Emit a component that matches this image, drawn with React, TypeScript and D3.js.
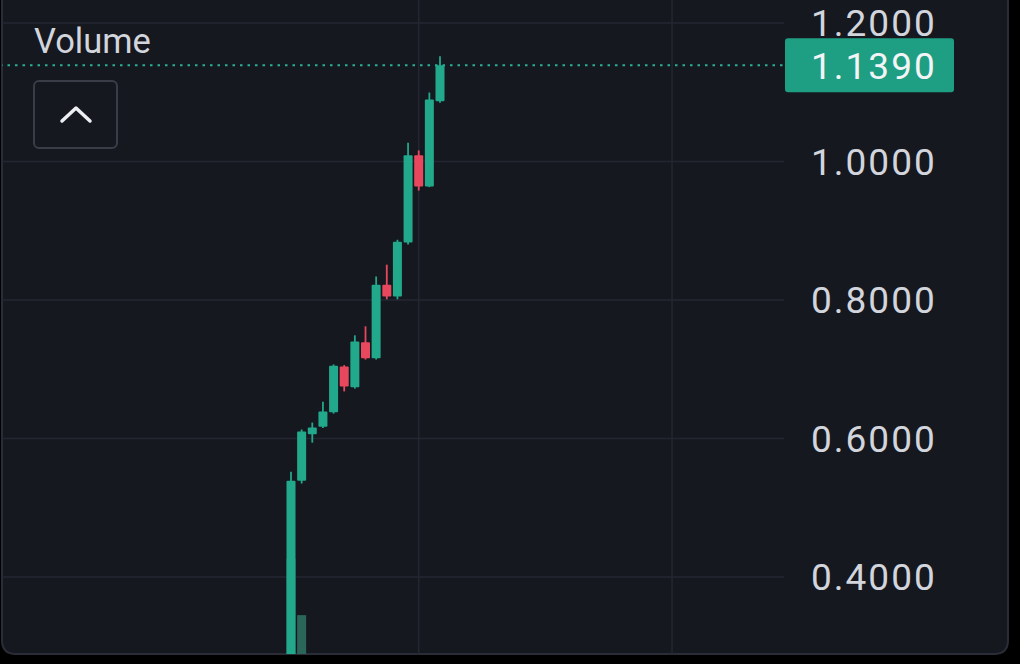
import React from "react";
import * as d3 from "d3";

// ---- data ----
const candleIndex = [0, 1, 2, 3, 4, 5, 6, 7, 8, 9, 10, 11, 12, 13, 14];
const opens = [0.28, 0.539, 0.606, 0.617, 0.638, 0.704, 0.674, 0.739, 0.716, 0.822, 0.805, 0.883, 1.009, 0.964, 1.087];
const highs = [0.552, 0.613, 0.623, 0.653, 0.707, 0.706, 0.749, 0.762, 0.834, 0.851, 0.887, 1.027, 1.016, 1.0996, 1.152];
const lows = [0.27, 0.535, 0.594, 0.615, 0.636, 0.668, 0.672, 0.714, 0.714, 0.801, 0.801, 0.880, 0.958, 0.963, 1.085];
const closes = [0.539, 0.610, 0.616, 0.639, 0.705, 0.675, 0.740, 0.716, 0.822, 0.805, 0.884, 1.009, 0.964, 1.0895, 1.139];
const volumes = [2.6, 1.06, 0.0, 0.0, 0.0, 0.0, 0.0, 0.0, 0.0, 0.0, 0.0, 0.0, 0.0, 0.0, 0.0];
const priceTicks = [0.4, 0.6, 0.8, 1.0, 1.2];
const verticalGridIdx = [12, 35.8];
const lastPrice = 1.139;
const volumeLabel = "Volume";

// ---- style ----
const W = 1020;
const H = 664;
const BG = "#161820";
const GRID = "#242732";
const UP = "#22a88b";
const DOWN = "#e8485d";
const VOL = "#2a665a";
const TEXT = "#d2d5dc";
const FONT = "Roboto, 'Noto Sans', sans-serif";

export default function App() {
  const panelRight = 1008;
  const panelBottom = 654;
  const plotRight = 784;

  const y = d3.scaleLinear().domain([0.4, 1.2]).range([577, 23]);
  const x = d3.scaleLinear().domain([0, 14]).range([291, 440]);
  const vy = d3.scaleLinear().domain([0, 3]).range([panelBottom, panelBottom - 110]);
  const bodyW = 9;
  const fmt = d3.format(".4f");

  const panelPath = `M2,-20 H${panelRight} V${panelBottom - 14} Q${panelRight},${panelBottom} ${panelRight - 14},${panelBottom} H16 Q2,${panelBottom} 2,${panelBottom - 14} Z`;

  return (
    <svg
      width={W}
      height={H}
      style={{ position: "absolute", left: 0, top: 0, background: "#000" }}
      fontFamily={FONT}
    >
      <defs>
        <clipPath id="panelClip">
          <path d={panelPath} />
        </clipPath>
      </defs>
      <rect x={0} y={0} width={W} height={H} fill="#000" />
      <path d={panelPath} fill={BG} stroke="#2a2d37" strokeWidth={2} />
      <g clipPath="url(#panelClip)">
        {/* horizontal grid */}
        {priceTicks.map((t) => (
          <line key={"h" + t} x1={0} x2={plotRight} y1={y(t)} y2={y(t)} stroke={GRID} strokeWidth={1.5} />
        ))}
        {/* vertical grid */}
        {verticalGridIdx.map((i) => (
          <line key={"v" + i} x1={x(i)} x2={x(i)} y1={0} y2={panelBottom} stroke={GRID} strokeWidth={1.5} />
        ))}
        {/* volume */}
        {candleIndex.map((i) =>
          volumes[i] > 0 ? (
            <rect
              key={"vol" + i}
              x={x(i) - bodyW / 2}
              y={vy(volumes[i])}
              width={bodyW}
              height={panelBottom - vy(volumes[i])}
              fill={VOL}
            />
          ) : null
        )}
        {/* last price line */}
        <line
          x1={0}
          x2={plotRight}
          y1={y(lastPrice)}
          y2={y(lastPrice)}
          stroke="#2aae95"
          strokeWidth={2}
          strokeDasharray="2.5 5"
        />
        {/* candles */}
        {candleIndex.map((i) => {
          const o = opens[i];
          const c = closes[i];
          const col = c >= o ? UP : DOWN;
          const top = y(Math.max(o, c));
          const bot = y(Math.min(o, c));
          return (
            <g key={"c" + i}>
              <line x1={x(i)} x2={x(i)} y1={y(highs[i])} y2={y(lows[i])} stroke={col} strokeWidth={1.8} />
              <rect x={x(i) - bodyW / 2} y={top} width={bodyW} height={Math.max(1, bot - top)} fill={col} rx={1} />
            </g>
          );
        })}
      </g>
      {/* axis labels */}
      {priceTicks.map((t) => (
        <text
          key={"t" + t}
          x={811}
          y={y(t)}
          dy="0.36em"
          fill={TEXT}
          fontSize={37}
          letterSpacing={2}
        >
          {fmt(t)}
        </text>
      ))}
      {/* last price tag */}
      <rect x={785} y={y(lastPrice) - 27} width={169} height={54} rx={3} fill="#1e9e82" />
      <text x={811} y={y(lastPrice)} dy="0.36em" fill="#f2f4f6" fontSize={37} letterSpacing={2}>
        {fmt(lastPrice)}
      </text>
      {/* volume label & button */}
      <text x={34} y={41} dy="0.36em" fill={TEXT} fontSize={34.5}>
        {volumeLabel}
      </text>
      <rect x={34} y={81} width={83} height={67} rx={5} fill="none" stroke="#3a3d48" strokeWidth={2} />
      <path d="M62,121 L76,108 L90,121" fill="none" stroke="#eceef2" strokeWidth={3.5} strokeLinecap="round" strokeLinejoin="round" />
    </svg>
  );
}
